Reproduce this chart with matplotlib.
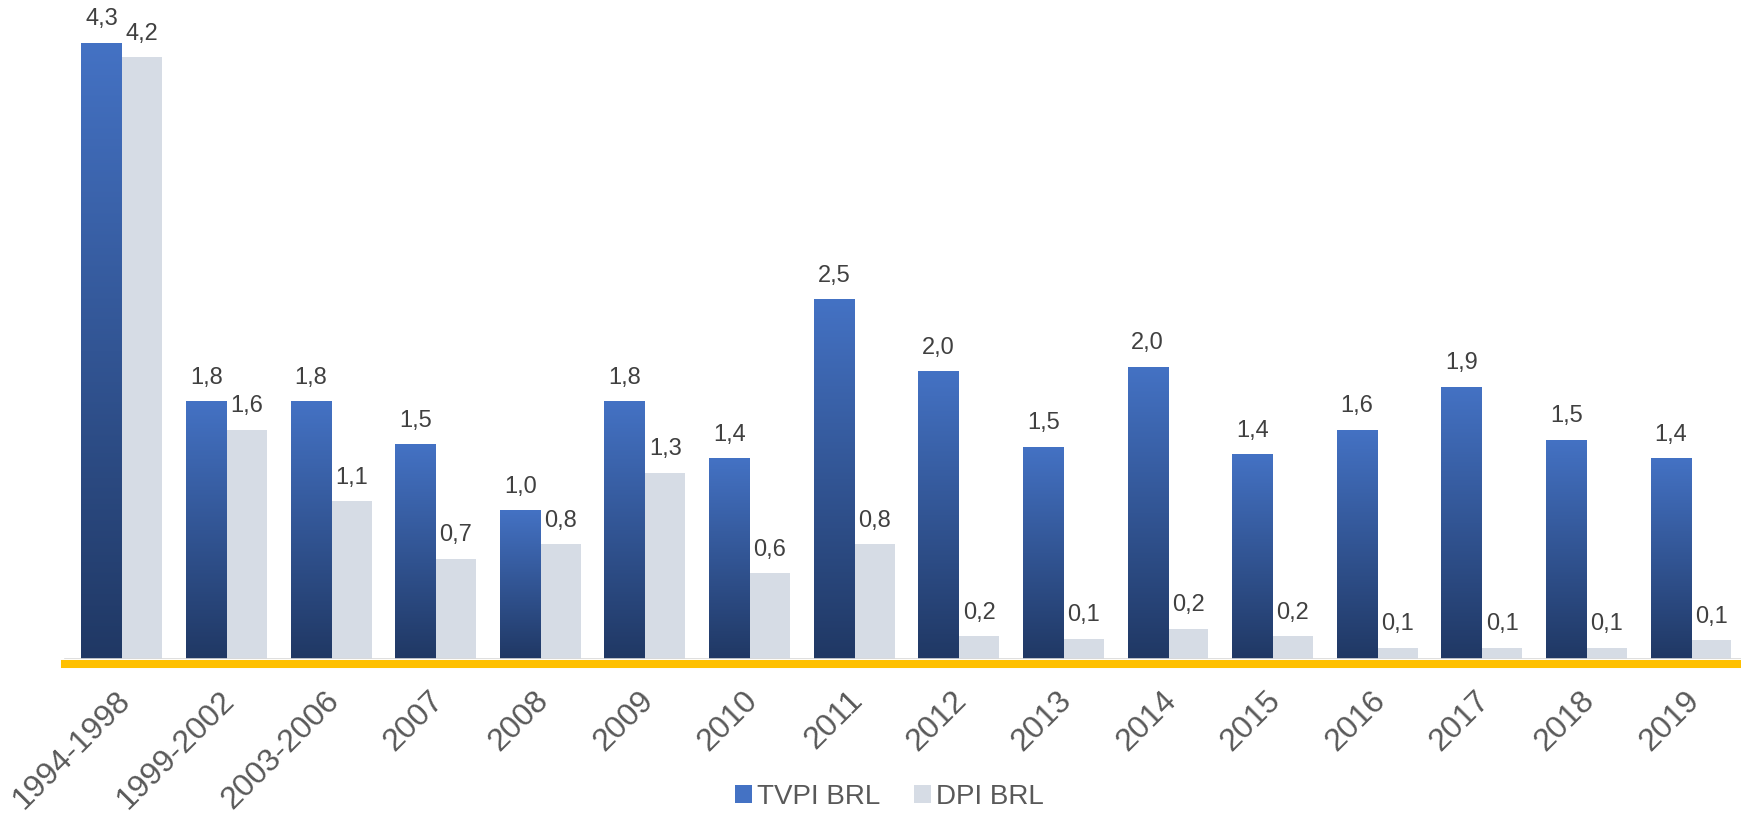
"""
TVPI vs DPI (BRL) by vintage - grouped bar chart with gradient bars.
"""

import numpy as np
import matplotlib.pyplot as plt
import matplotlib.transforms as mtransforms
from matplotlib.colors import LinearSegmentedColormap
from matplotlib.patches import Patch


VINTAGES = ["1994-1998", "1999-2002", "2003-2006", "2007", "2008", "2009",
            "2010", "2011", "2012", "2013", "2014", "2015", "2016", "2017",
            "2018", "2019"]
TVPI_BRL = [4.30, 1.80, 1.80, 1.50, 1.04, 1.80, 1.40, 2.51, 2.01, 1.48,
            2.04, 1.43, 1.60, 1.90, 1.53, 1.40]
DPI_BRL = [4.20, 1.60, 1.10, 0.70, 0.80, 1.30, 0.60, 0.80, 0.16, 0.14,
           0.21, 0.16, 0.08, 0.08, 0.08, 0.13]

BLUE_TOP = "#4472C4"
BLUE_BOTTOM = "#203864"
GREY_BAR = "#D6DCE5"
YELLOW = "#FFC000"
LABEL_COLOR = "#404040"
TICK_COLOR = "#595959"

plt.rcParams["font.family"] = ["Liberation Sans", "DejaVu Sans"]


def main() -> None:
    fig = plt.figure(figsize=(17.41, 8.13), dpi=100)
    ax = fig.add_axes([0, 154 / 813, 1, 659 / 813])

    x = np.arange(len(VINTAGES))
    width = 0.387

    tvpi_bars = ax.bar(x - width / 2, TVPI_BRL, width, color=BLUE_TOP,
                       label="TVPI BRL", zorder=2)
    dpi_bars = ax.bar(x + width / 2, DPI_BRL, width, color=GREY_BAR,
                      label="DPI BRL", zorder=2)

    # vertical gradient inside each TVPI bar
    cmap = LinearSegmentedColormap.from_list("blues", [BLUE_BOTTOM, BLUE_TOP])
    grad = np.linspace(0, 1, 256).reshape(-1, 1)
    for bar in tvpi_bars:
        bx, bw, bh = bar.get_x(), bar.get_width(), bar.get_height()
        img = ax.imshow(grad, cmap=cmap, origin="lower", aspect="auto",
                        extent=(bx, bx + bw, 0, bh), zorder=3)
        img.set_clip_path(bar)

    for bars in (tvpi_bars, dpi_bars):
        for bar in bars:
            h = bar.get_height()
            ax.annotate(f"{h:.1f}".replace(".", ","),
                        (bar.get_x() + bar.get_width() / 2, h),
                        xytext=(0, 9), textcoords="offset points",
                        ha="center", va="bottom", fontsize=17,
                        color=LABEL_COLOR)

    ax.set_xlim(-1.166, 15.478)
    ax.set_ylim(0, 4.6)

    # thin grey axis line plus the thick yellow rule underneath
    ax.axhline(0, xmin=0.0373, xmax=1, color="#D9D9D9", lw=1.2, zorder=4)
    ax.axhline(-0.035, xmin=0.0373, xmax=1, color=YELLOW, lw=5.8,
               clip_on=False, zorder=4)

    for spine in ax.spines.values():
        spine.set_visible(False)
    ax.set_yticks([])
    ax.set_xticks(x)
    ax.set_xticklabels(VINTAGES, rotation=45, ha="right",
                       rotation_mode="anchor", fontsize=23, color=TICK_COLOR)
    ax.tick_params(axis="x", length=0, pad=19)
    shift = mtransforms.ScaledTranslation(-5 / 72, 0, fig.dpi_scale_trans)
    for lbl in ax.get_xticklabels():
        lbl.set_transform(lbl.get_transform() + shift)

    handles = [Patch(facecolor=BLUE_TOP, label="TVPI BRL"),
               Patch(facecolor=GREY_BAR, label="DPI BRL")]
    fig.legend(handles=handles, loc="center", bbox_to_anchor=(0.511, 0.02),
               ncol=2, frameon=False, fontsize=20, handlelength=0.6,
               handleheight=0.6, handletextpad=0.2, columnspacing=1.2,
               labelcolor=TICK_COLOR)

    fig.savefig("out.png", dpi=100)


if __name__ == "__main__":
    main()
